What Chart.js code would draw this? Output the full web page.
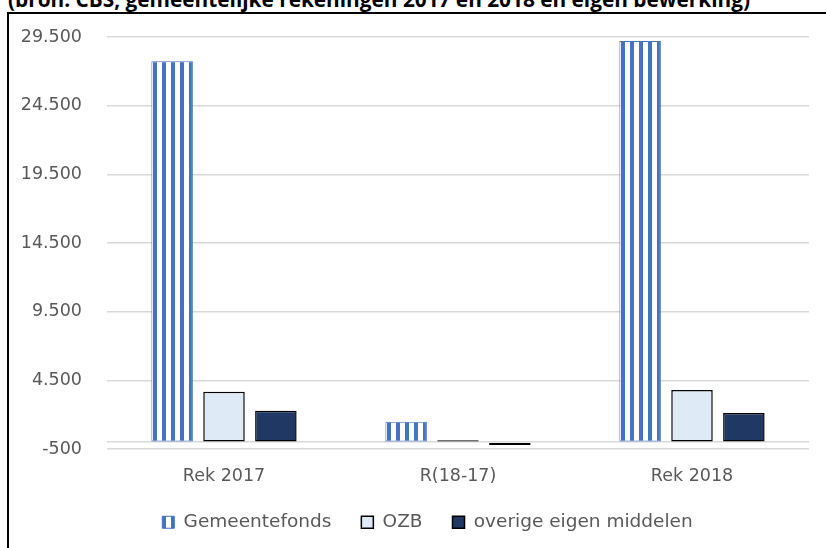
<!DOCTYPE html>
<html>
<head>
<meta charset="utf-8">
<script src="https://cdn.jsdelivr.net/npm/chart.js@4.4.1/dist/chart.umd.min.js"></script>
<style>
  html, body { margin: 0; padding: 0; background: #fff; overflow: hidden; }
  #wrap { position: relative; width: 826px; height: 548px; }
  #title {
    position: absolute; left: 8px; top: -11px; white-space: nowrap;
    font: bold 20.8px/21px "Open Sans", sans-serif; color: #000;
  }
  #box {
    position: absolute; left: 7px; top: 12px; right: -5px; bottom: -5px;
    border-left: 2px solid #000; border-top: 2px solid #000;
  }
  #chart { position: absolute; left: 0; top: 0; }
</style>
</head>
<body>
<div id="wrap">
  <div id="title">(bron: CBS, gemeentelijke rekeningen 2017 en 2018 en eigen bewerking)</div>
  <div id="box"></div>
  <canvas id="chart" width="826" height="548"></canvas>
</div>
<script>
//Data
let categories = ['Rek 2017', 'R(18-17)', 'Rek 2018'];
let seriesNames = ['Gemeentefonds', 'OZB', 'overige eigen middelen'];
let gemeentefonds = [27730, 1480, 29200];
let ozb = [3660, 140, 3790];
let overige = [2280, -200, 2130];
let yMin = -500;
let yMax = 29500;
let yStep = 5000;

//Patterns
function stripePattern() {
    let c = document.createElement('canvas');
    c.width = 9;
    c.height = 9;
    let x = c.getContext('2d');
    x.fillStyle = '#ffffff';
    x.fillRect(0, 0, 9, 9);
    x.fillStyle = '#4472C4';
    x.fillRect(0, 0, 4, 9);
    return x.createPattern(c, 'repeat');
}

let fontFam = '"DejaVu Sans", sans-serif';
let grey = '#595959';

// legend height / offset
let legendFix = {
    id: 'legendFix',
    beforeLayout: function (chart) {
        let lg = chart.legend;
        if (lg && !lg._wrapped) {
            let fit = lg.fit;
            lg.fit = function () {
                fit.call(this);
                this.height = 57;
            };
            lg._wrapped = true;
        }
    },
    afterLayout: function (chart) {
        let lg = chart.legend;
        lg.left += 23;
        lg.right += 23;
        lg.top -= 8;
        lg.bottom -= 8;
    }
};

let ctx = document.getElementById('chart').getContext('2d');
let chart = new Chart(ctx, {
    type: 'bar',
    data: {
        labels: categories,
        datasets: [{
            label: seriesNames[0],
            data: gemeentefonds,
            backgroundColor: stripePattern(),
            borderColor: '#4472C4',
            borderWidth: 1,
            borderSkipped: false
        }, {
            label: seriesNames[1],
            data: ozb,
            backgroundColor: '#DEEBF7',
            borderColor: '#000000',
            borderWidth: 1.5,
            borderSkipped: false
        }, {
            label: seriesNames[2],
            data: overige,
            backgroundColor: '#203864',
            borderColor: '#000000',
            borderWidth: 1.5,
            borderSkipped: false
        }]
    },
    options: {
        responsive: false,
        animation: false,
        layout: { padding: { top: 37, right: 17, left: 0, bottom: 0 } },
        datasets: { bar: { categoryPercentage: 0.665, barPercentage: 0.8 } },
        scales: {
            x: {
                grid: { display: false, drawTicks: false },
                border: { display: false },
                ticks: { color: grey, font: { family: fontFam, size: 17.5 }, padding: 17 },
                afterFit: function (scale) { scale.height = 42; }
            },
            y: {
                min: yMin,
                max: yMax,
                grid: { color: '#D9D9D9', lineWidth: 1.5, drawTicks: false },
                border: { display: false },
                ticks: {
                    stepSize: yStep,
                    color: grey,
                    padding: 25,
                    font: { family: fontFam, size: 17.5 },
                    callback: function (v) {
                        if (v === 0) return '';
                        return v.toLocaleString('nl-NL');
                    }
                },
                afterBuildTicks: function (scale) {
                    // zero axis line
                    scale.ticks.push({ value: 0 });
                    scale.ticks.sort(function (a, b) { return a.value - b.value; });
                },
                afterFit: function (scale) { scale.width = 107; }
            }
        },
        plugins: {
            tooltip: { enabled: false },
            legend: {
                position: 'bottom',
                labels: {
                    color: grey,
                    font: { family: fontFam, size: 18.5 },
                    boxWidth: 12,
                    boxHeight: 12,
                    padding: 30
                }
            }
        }
    },
    plugins: [legendFix]
});
</script>
</body>
</html>
